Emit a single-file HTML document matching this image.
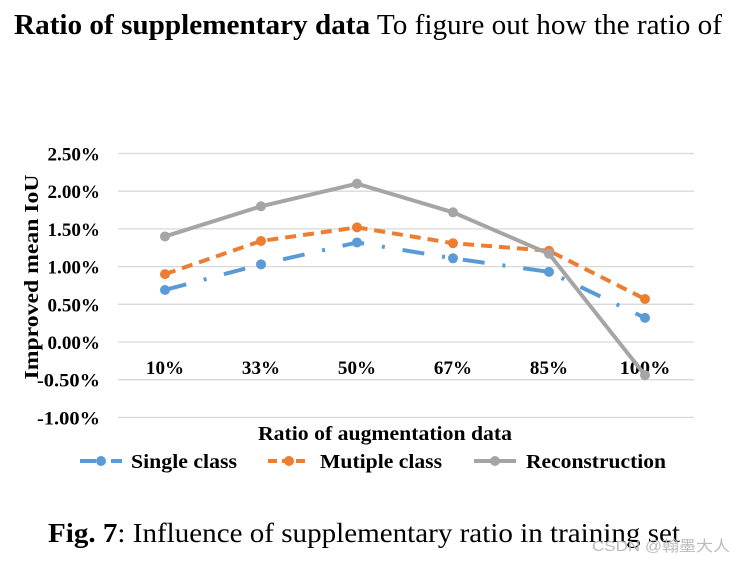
<!DOCTYPE html>
<html><head><meta charset="utf-8"><style>
body{margin:0;background:#fff;width:745px;height:562px;overflow:hidden;font-family:"Liberation Serif",serif;}
svg{position:absolute;left:0;top:0}
</style></head><body>
<svg width="745" height="562">
<text x="14" y="34" font-size="28" textLength="708" lengthAdjust="spacingAndGlyphs"><tspan font-weight="bold">Ratio of supplementary data</tspan> To figure out how the ratio of</text>
<g id="grid"></g><g id="yticks"></g><g id="xticks"></g><g id="series"></g>
<text transform="translate(38,277) rotate(-90)" text-anchor="middle" font-size="20" font-weight="bold" textLength="205" lengthAdjust="spacingAndGlyphs">Improved  mean IoU</text>
<text x="385" y="440" text-anchor="middle" font-size="20" font-weight="bold" textLength="254" lengthAdjust="spacingAndGlyphs">Ratio of augmentation  data</text>
<g font-size="20" font-weight="bold">
<g><line x1="80" y1="461" x2="122" y2="461" stroke="#5b9bd5" stroke-width="4" stroke-dasharray="16,6,3,6"/><circle cx="101" cy="461" r="5" fill="#5b9bd5"/><text x="131" y="468" textLength="106" lengthAdjust="spacingAndGlyphs">Single class</text></g>
<g><line x1="268" y1="461" x2="310" y2="461" stroke="#ed7d31" stroke-width="4" stroke-dasharray="9,5"/><circle cx="289" cy="461" r="5" fill="#ed7d31"/><text x="320" y="468" textLength="122" lengthAdjust="spacingAndGlyphs">Mutiple class</text></g>
<g><line x1="474" y1="461" x2="516" y2="461" stroke="#a5a5a5" stroke-width="4"/><circle cx="495" cy="461" r="5" fill="#a5a5a5"/><text x="526" y="468" textLength="140" lengthAdjust="spacingAndGlyphs">Reconstruction</text></g>
</g>
<text x="48" y="542" font-size="27" textLength="632" lengthAdjust="spacingAndGlyphs"><tspan font-weight="bold">Fig. 7</tspan>: Influence of supplementary ratio in training set</text>
<text x="592" y="551" font-size="15" fill="#bbb" textLength="138" lengthAdjust="spacingAndGlyphs" font-family="Liberation Sans, Noto Sans CJK SC, sans-serif">CSDN @翰墨大人</text>
</svg>
<script>
const categories=["10%","33%","50%","67%","85%","100%"];
const yTicks=[2.5,2.0,1.5,1.0,0.5,0.0,-0.5,-1.0];
const singleClass=[0.69,1.03,1.32,1.11,0.93,0.32];
const multipleClass=[0.90,1.34,1.52,1.31,1.21,0.57];
const reconstruction=[1.40,1.80,2.10,1.72,1.17,-0.44];
const NS="http://www.w3.org/2000/svg";
function y(v){return 342-v*75.4;}
function x(i){return 165+i*96;}
function mk(t,a,p){const e=document.createElementNS(NS,t);for(const k in a)e.setAttribute(k,a[k]);document.getElementById(p).appendChild(e);return e;}
yTicks.forEach(v=>{
 const l=mk("line",{x1:118,x2:694,y1:y(v),y2:y(v),stroke:"#d9d9d9","stroke-width":1.3},"grid");
 
 
 const lab=v.toFixed(2)+"%";
 const t=mk("text",{x:100,y:y(v)+7,"text-anchor":"end","font-size":19,"font-weight":"bold",textLength:lab.length*10.5,lengthAdjust:"spacingAndGlyphs"},"yticks");
 t.textContent=lab;
 
 
});
categories.forEach((c,i)=>{
 const t=mk("text",{x:x(i),y:374,"text-anchor":"middle","font-size":19,"font-weight":"bold",textLength:c.length*12.7,lengthAdjust:"spacingAndGlyphs"},"xticks");
 t.textContent=c;
 
 
});
function series(vals,color,dash,name){
 const p=mk("polyline",{points:vals.map((v,i)=>x(i)+","+y(v)).join(" "),fill:"none",stroke:color,"stroke-width":4,"stroke-dasharray":dash,"stroke-linejoin":"round"},"series");
 
 
 vals.forEach((v,i)=>{
  const c=mk("circle",{cx:x(i),cy:y(v),r:5,fill:color},"series");
  
  
 });
}
series(singleClass,"#5b9bd5","22,18,3,18","single-class");
series(multipleClass,"#ed7d31","11,7","multiple-class");
series(reconstruction,"#a5a5a5","none","reconstruction");
</script>
</body></html>
